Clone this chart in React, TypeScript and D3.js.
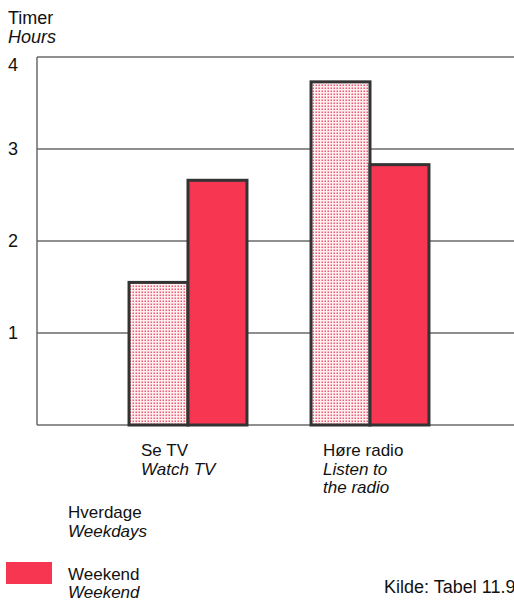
import React from "react";
import * as d3 from "d3";

const categories = ["tv", "radio"];
const categoryLabels: string[][] = [["Se TV"], ["Høre radio"]];
const categoryLabelsEn: string[][] = [["Watch TV"], ["Listen to", "the radio"]];
const seriesKeys = ["weekday", "weekend"];
const weekdayValues = [1.55, 3.73];
const weekendValues = [2.66, 2.83];
const yTicks = [1, 2, 3, 4];

const W = 514;
const H = 601;
const FONT = "'Liberation Sans', Arial, Helvetica, sans-serif";
const RED = "#f73752";

export default function App() {
  const y = d3.scaleLinear().domain([0, 4]).range([425, 57]);
  const x = d3
    .scaleBand<string>()
    .domain(categories)
    .range([97, 461])
    .paddingInner(0.352)
    .paddingOuter(0.176);
  const xs = d3.scaleBand<string>().domain(seriesKeys).range([0, x.bandwidth()]);
  const values: Record<string, number[]> = { weekday: weekdayValues, weekend: weekendValues };
  const left = 37;
  const fs = 17;

  return (
    <svg
      width={W}
      height={H}
      style={{ position: "absolute", left: 0, top: 0, background: "#fff" }}
      fontFamily={FONT}
    >
      <defs>
        <pattern id="dots" width="3" height="3" patternUnits="userSpaceOnUse">
          <rect width="3" height="3" fill="#fdeef0" />
          <rect x="0.5" y="0.5" width="1.5" height="1.5" fill="#ef5b72" />
        </pattern>
      </defs>
      {[0, ...yTicks].map((t) => (
        <line key={t} x1={left} x2={W} y1={y(t)} y2={y(t)} stroke="#6a6a6a" strokeWidth={1.5} />
      ))}
      <line x1={left} x2={left} y1={y(4)} y2={y(0)} stroke="#6a6a6a" strokeWidth={1.5} />
      {yTicks.map((t) => (
        <text key={t} x={8} y={y(t) + (t === 4 ? 14 : 6)} fontSize={18} fill="#111">
          {t}
        </text>
      ))}
      <text x={8} y={24} fontSize={18} fill="#111">Timer</text>
      <text x={8} y={43} fontSize={18} fontStyle="italic" fill="#111">Hours</text>
      {categories.map((c, i) =>
        seriesKeys.map((s) => {
          const v = values[s][i];
          return (
            <rect
              key={c + s}
              x={(x(c) as number) + (xs(s) as number)}
              y={y(v)}
              width={xs.bandwidth()}
              height={y(0) - y(v)}
              fill={s === "weekday" ? "url(#dots)" : RED}
              stroke="#333"
              strokeWidth={3}
            />
          );
        })
      )}
      {categories.map((c, i) => {
        const lx = (x(c) as number) + 12;
        const lines = [
          ...categoryLabels[i].map((l) => ({ l, it: false })),
          ...categoryLabelsEn[i].map((l) => ({ l, it: true })),
        ];
        return (
          <g key={c}>
            {lines.map((ln, j) => (
              <text
                key={j}
                x={lx}
                y={456 + j * 18.5}
                fontSize={fs}
                fontStyle={ln.it ? "italic" : "normal"}
                fill="#111"
              >
                {ln.l}
              </text>
            ))}
          </g>
        );
      })}
      <text x={68} y={518} fontSize={fs} fill="#111">Hverdage</text>
      <text x={68} y={537} fontSize={fs} fontStyle="italic" fill="#111">Weekdays</text>
      <rect x={6} y={562} width={46} height={22} fill={RED} />
      <text x={68} y={580} fontSize={fs} fill="#111">Weekend</text>
      <text x={68} y={598} fontSize={fs} fontStyle="italic" fill="#111">Weekend</text>
      <text x={384} y={593} fontSize={18} fill="#111">Kilde: Tabel 11.9</text>
    </svg>
  );
}
